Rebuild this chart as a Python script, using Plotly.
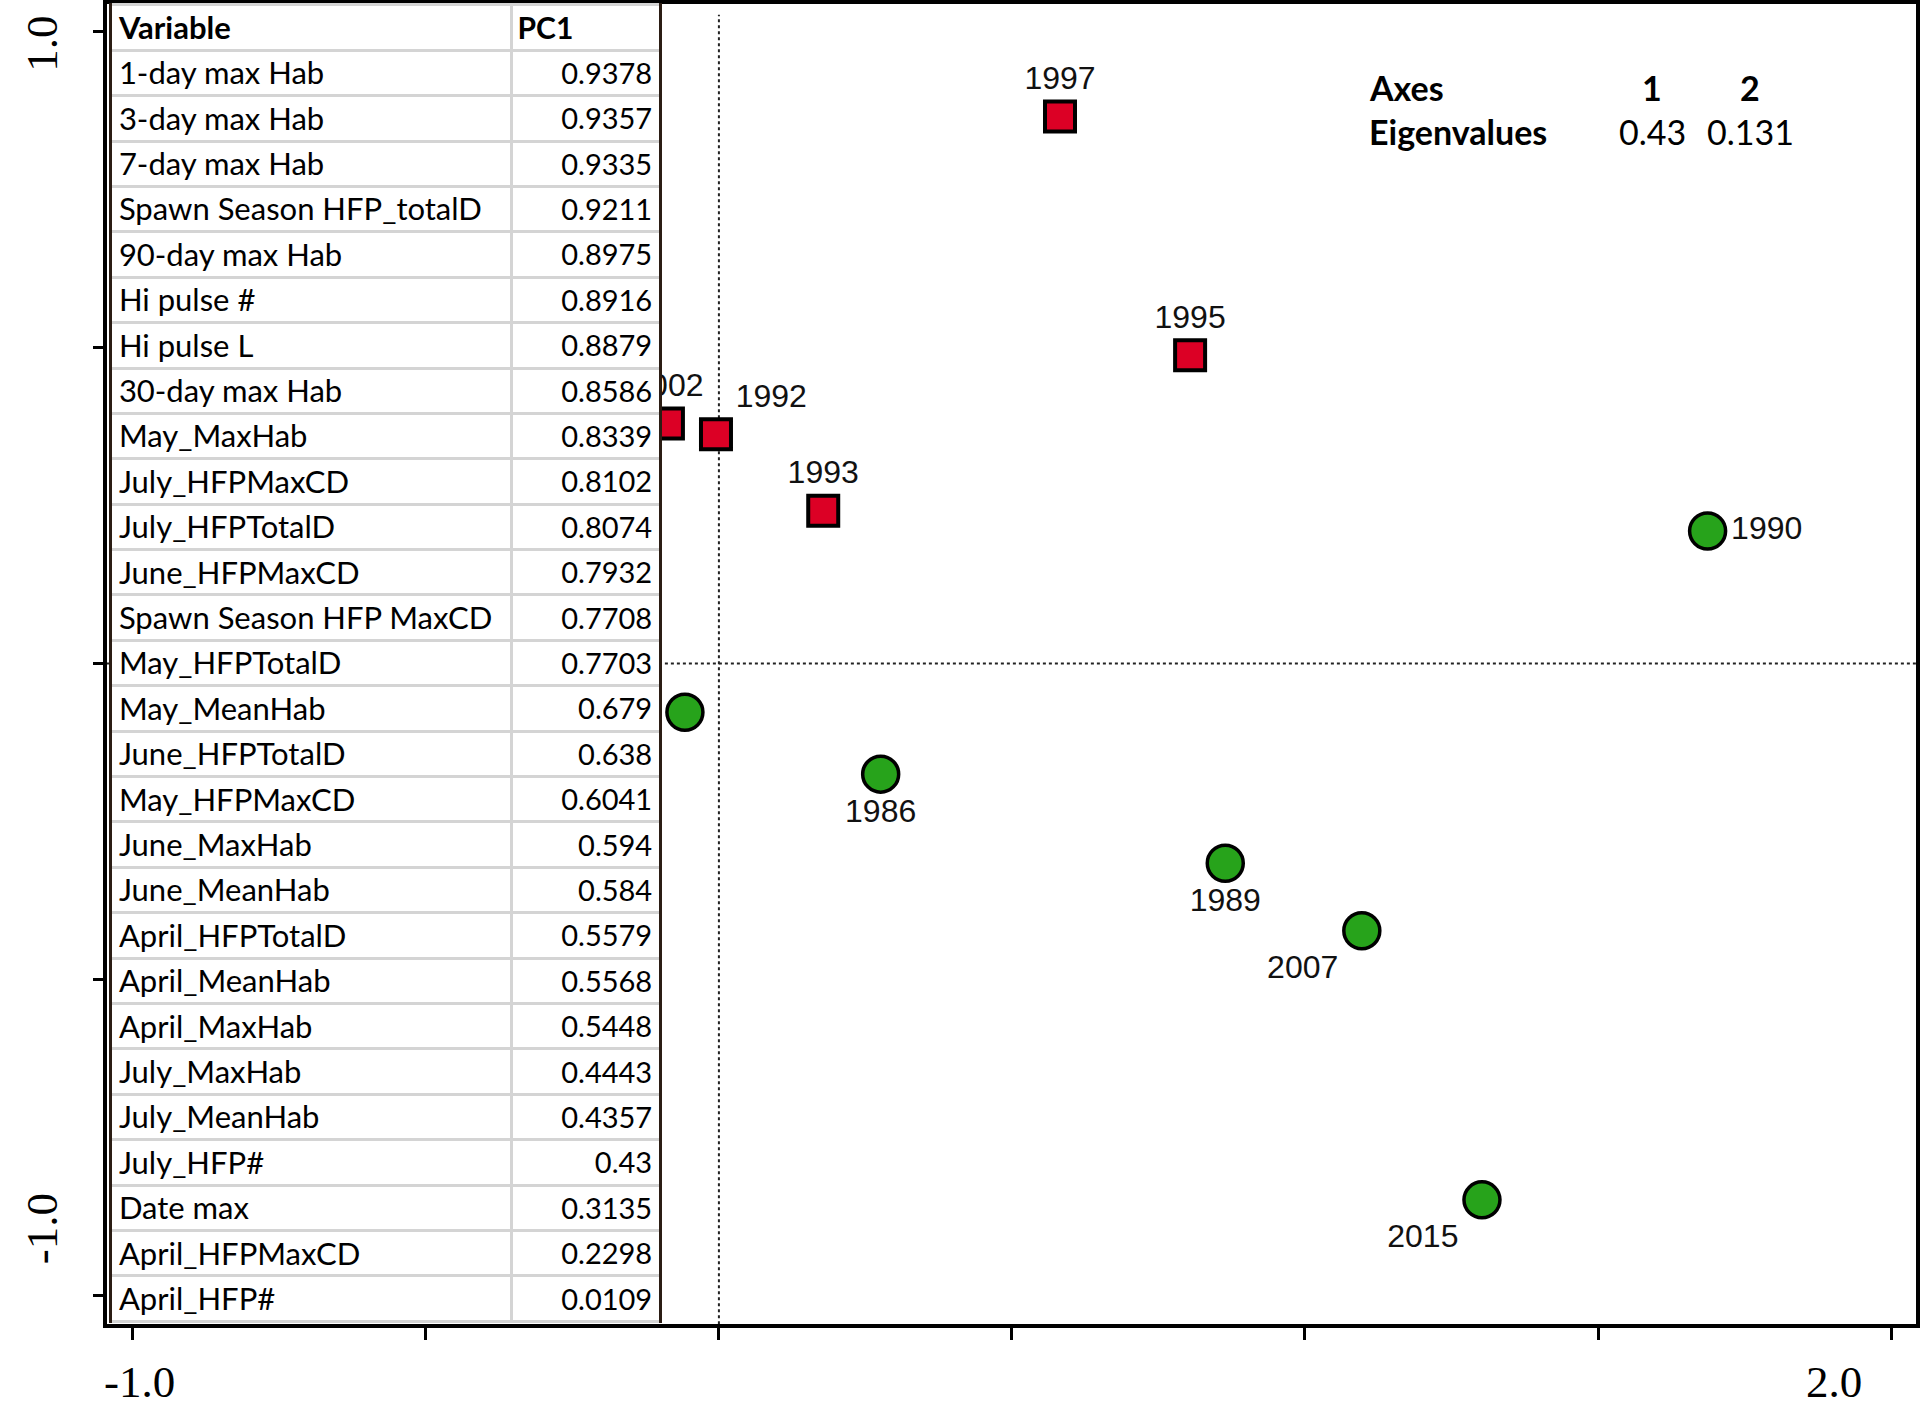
import plotly.graph_objects as go

# ---- loading table (variable, PC1 loading) ----
VARIABLES = [
    "1-day max Hab", "3-day max Hab", "7-day max Hab", "Spawn Season HFP_totalD",
    "90-day max Hab", "Hi pulse #", "Hi pulse L", "30-day max Hab", "May_MaxHab",
    "July_HFPMaxCD", "July_HFPTotalD", "June_HFPMaxCD", "Spawn Season HFP MaxCD",
    "May_HFPTotalD", "May_MeanHab", "June_HFPTotalD", "May_HFPMaxCD", "June_MaxHab",
    "June_MeanHab", "April_HFPTotalD", "April_MeanHab", "April_MaxHab", "July_MaxHab",
    "July_MeanHab", "July_HFP#", "Date max", "April_HFPMaxCD", "April_HFP#",
]
PC1 = [
    0.9378, 0.9357, 0.9335, 0.9211, 0.8975, 0.8916, 0.8879, 0.8586, 0.8339,
    0.8102, 0.8074, 0.7932, 0.7708, 0.7703, 0.679, 0.638, 0.6041, 0.594,
    0.584, 0.5579, 0.5568, 0.5448, 0.4443, 0.4357, 0.43, 0.3135, 0.2298, 0.0109,
]

# ---- sample scores (years) ----
SQ_YEARS = ["1997", "1995", "1992", "2002", "1993"]
SQ_AX1 = [0.582, 0.804, -0.005, -0.087, 0.178]
SQ_AX2 = [0.866, 0.488, 0.363, 0.380, 0.242]

CI_YEARS = ["", "1986", "1989", "2007", "2015", "1990"]
CI_AX1 = [-0.058, 0.276, 0.864, 1.097, 1.302, 1.687]
CI_AX2 = [-0.077, -0.175, -0.316, -0.423, -0.849, 0.210]

# ---- eigenvalue summary ----
EIG_AXES = ["1", "2"]
EIGENVALUES = [0.43, 0.131]

# ---- axis end labels ----
X_END_LABELS = ["-1.0", "2.0"]
Y_END_LABELS = ["1.0", "-1.0"]

W, H = 1920, 1408
X_RANGE = [-1.0443, 2.0426]
Y_RANGE = [-1.0458, 1.0442]

SQ_POS = ["top center", "top center", "top right", "top center", "top center"]
CI_POS = ["bottom center", "bottom center", "bottom center", "bottom left", "bottom left", "middle right"]

YEAR_FONT = dict(family="Liberation Sans, Arial, sans-serif", size=32, color="#111111")
TABLE_FONT = "Lato, Calibri, sans-serif"
SERIF = "Liberation Serif, Times New Roman, serif"

fig = go.Figure()

# ordination scores
fig.add_trace(go.Scatter(
    x=SQ_AX1, y=SQ_AX2, text=SQ_YEARS, mode="markers+text",
    textposition=SQ_POS, textfont=YEAR_FONT,
    marker=dict(symbol="square", size=30, color="#dc0025",
                line=dict(color="black", width=4)),
    xaxis="x", yaxis="y", showlegend=False, hoverinfo="skip",
))
fig.add_trace(go.Scatter(
    x=CI_AX1, y=CI_AX2, text=CI_YEARS, mode="markers+text",
    textposition=CI_POS, textfont=YEAR_FONT,
    marker=dict(symbol="circle", size=36, color="#27a31b",
                line=dict(color="black", width=3.5)),
    xaxis="x", yaxis="y", showlegend=False, hoverinfo="skip",
))

# table drawn as an inset subplot on top of the ordination
n_rows = len(VARIABLES) + 1
rows = [i + 0.58 for i in range(n_rows)]
fig.add_trace(go.Scatter(
    x=[0.0128] * n_rows, y=rows,
    text=["<b>Variable</b>"] + VARIABLES,
    mode="text", textposition="middle right",
    textfont=dict(family=TABLE_FONT, size=31, color="black"),
    xaxis="x2", yaxis="y2", showlegend=False, hoverinfo="skip", cliponaxis=False,
))
fig.add_trace(go.Scatter(
    x=[0.741], y=[rows[0]], text=["<b>PC1</b>"],
    mode="text", textposition="middle right",
    textfont=dict(family=TABLE_FONT, size=30, color="black"),
    xaxis="x2", yaxis="y2", showlegend=False, hoverinfo="skip", cliponaxis=False,
))
fig.add_trace(go.Scatter(
    x=[0.987] * len(PC1), y=rows[1:], text=[str(v) for v in PC1],
    mode="text", textposition="middle left",
    textfont=dict(family=TABLE_FONT, size=29, color="black"),
    xaxis="x2", yaxis="y2", showlegend=False, hoverinfo="skip", cliponaxis=False,
))

# dotted reference lines through the origin
dot = dict(color="#222222", width=2, dash="dot")
fig.add_shape(type="line", xref="x", yref="y", x0=0, x1=0,
              y0=Y_RANGE[0], y1=1.027, line=dot, layer="below")
fig.add_shape(type="line", xref="x", yref="y", x0=X_RANGE[0], x1=X_RANGE[1],
              y0=0, y1=0, line=dot, layer="below")

annotations = []
axis_font = dict(family=SERIF, size=45, color="black")
# axis end labels
annotations.append(dict(x=-1.0, y=26 / H, xref="x", yref="paper", xanchor="center",
                        yanchor="middle", xshift=7, text=X_END_LABELS[0],
                        showarrow=False, font=axis_font))
annotations.append(dict(x=2.0, y=26 / H, xref="x", yref="paper", xanchor="right",
                        yanchor="middle", xshift=-27, text=X_END_LABELS[1],
                        showarrow=False, font=axis_font))
for lab, yv, ys in [(Y_END_LABELS[0], 1.0, -12), (Y_END_LABELS[1], -1.0, 67)]:
    annotations.append(dict(x=42 / W, y=yv, xref="paper", yref="y", xanchor="center",
                            yanchor="middle", yshift=ys, text=lab, textangle=-90,
                            showarrow=False, font=axis_font))

# eigenvalue summary block
eig_font = dict(family=TABLE_FONT, size=34, color="black")
row1_y, row2_y = 1 - 85 / H, 1 - 129 / H
annotations.append(dict(x=1368 / W, y=row1_y, xref="paper", yref="paper",
                        xanchor="left", yanchor="middle", text="<b>Axes</b>",
                        showarrow=False, font=eig_font))
annotations.append(dict(x=1368 / W, y=row2_y, xref="paper", yref="paper",
                        xanchor="left", yanchor="middle", text="<b>Eigenvalues</b>",
                        showarrow=False, font=eig_font))
for px, ax_lab, ev in zip([1654, 1752], EIG_AXES, EIGENVALUES):
    annotations.append(dict(x=px / W, y=row1_y, xref="paper", yref="paper",
                            xanchor="center", yanchor="middle", text=f"<b>{ax_lab}</b>",
                            showarrow=False, font=eig_font))
    annotations.append(dict(x=px / W, y=row2_y, xref="paper", yref="paper",
                            xanchor="center", yanchor="middle", text=str(ev),
                            showarrow=False, font=eig_font))

fig.update_layout(
    width=W, height=H, margin=dict(l=0, r=0, t=0, b=0),
    paper_bgcolor="white", plot_bgcolor="white",
    xaxis=dict(domain=[107 / W, 1918 / W], range=X_RANGE, showgrid=False, zeroline=False,
               showline=True, linecolor="black", linewidth=4, mirror=True,
               ticks="outside", ticklen=12, tickwidth=3, tickcolor="black",
               tickvals=[-1, -0.5, 0, 0.5, 1, 1.5, 2], showticklabels=False),
    yaxis=dict(domain=[84 / H, 1 - 1 / H], range=Y_RANGE, showgrid=False, zeroline=False,
               showline=True, linecolor="black", linewidth=4, mirror=True,
               ticks="outside", ticklen=10, tickwidth=3, tickcolor="black",
               tickvals=[-1, -0.5, 0, 0.5, 1], showticklabels=False),
    xaxis2=dict(domain=[112 / W, 660 / W], range=[0, 1], anchor="y2",
                showgrid=True, gridcolor="#d4d4d4", gridwidth=3, tickvals=[0.73],
                zeroline=False, showline=False, showticklabels=False, ticks=""),
    yaxis2=dict(domain=[85 / H, 1.0], range=[n_rows + 0.04, -0.04], anchor="x2",
                showgrid=True, gridcolor="#d4d4d4", gridwidth=3,
                tickvals=list(range(0, n_rows + 1)), zeroline=False,
                showline=True, linecolor="#2b1d14", linewidth=3, mirror=True,
                showticklabels=False, ticks=""),
    annotations=annotations,
)

fig.write_html("out.html")
